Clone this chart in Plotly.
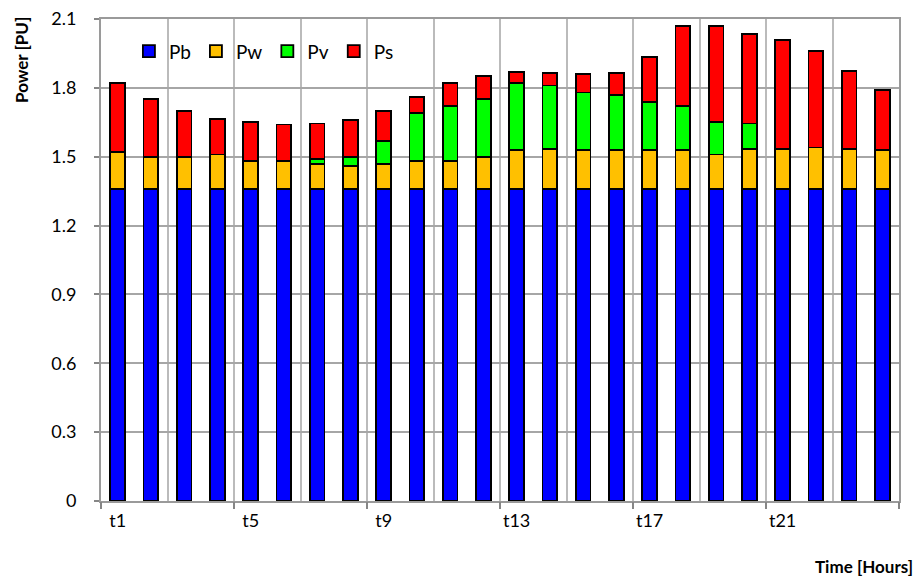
import plotly.graph_objects as go

# hourly power shares (per unit)
hours = [f"t{i}" for i in range(1, 25)]
pb = [1.36] * 24
pw = [0.16, 0.14, 0.14, 0.15, 0.12, 0.12, 0.11, 0.10, 0.11, 0.12, 0.12, 0.14,
      0.17, 0.175, 0.17, 0.17, 0.17, 0.17, 0.15, 0.175, 0.175, 0.18, 0.175, 0.17]
pv = [0, 0, 0, 0, 0, 0, 0.02, 0.04, 0.10, 0.21, 0.24, 0.25,
      0.29, 0.275, 0.25, 0.24, 0.21, 0.19, 0.14, 0.11, 0, 0, 0, 0]
ps = [0.30, 0.25, 0.20, 0.155, 0.17, 0.16, 0.155, 0.16, 0.13, 0.07, 0.10, 0.10,
      0.05, 0.055, 0.08, 0.095, 0.195, 0.35, 0.42, 0.39, 0.475, 0.42, 0.34, 0.26]
y_ticks = [0, 0.3, 0.6, 0.9, 1.2, 1.5, 1.8, 2.1]

label_every = 4
series = [("Pb", pb, "#0000FF"), ("Pw", pw, "#FFC000"),
          ("Pv", pv, "#00FF00"), ("Ps", ps, "#FF0000")]

FONT = "Lato"
x = list(range(1, len(hours) + 1))
x_range = [0.5, len(hours) + 0.5]

fig = go.Figure()
for name, vals, col in series:
    # zero-height segments are left out so they don't draw an outline
    fig.add_trace(go.Bar(
        x=x, y=[v if v else None for v in vals], name=name,
        marker=dict(color=col, line=dict(color="black", width=1.8)),
    ))

# invisible trace on the overlay axis so the boundary tick marks are drawn
fig.add_trace(go.Scatter(x=x_range, y=[0, 0], xaxis="x2", mode="lines",
                         line=dict(width=0), showlegend=False, hoverinfo="skip"))

# the page body adds an 8px offset, so the figure is 8px smaller
fig.update_layout(
    width=916, height=574,
    barmode="stack", bargap=0.56,
    plot_bgcolor="white", paper_bgcolor="white",
    margin=dict(l=93, r=25, t=11, b=81, autoexpand=False),
    font=dict(family=FONT, size=18, color="black"),
    showlegend=True,
    legend=dict(orientation="h", x=0.035, y=0.933, xanchor="left", yanchor="middle",
                bgcolor="rgba(0,0,0,0)", font=dict(size=19), traceorder="normal"),
    xaxis=dict(
        range=x_range,
        tickmode="array",
        tickvals=x[::label_every], ticktext=hours[::label_every],
        ticks="", showgrid=False, ticklabelstandoff=2,
        showline=True, linecolor="#9A9A9A", linewidth=2, mirror=True,
        minor=dict(tickmode="linear", tick0=0.5, dtick=2, showgrid=True,
                   gridcolor="#BBBBBB", gridwidth=1.5, ticks=""),
        zeroline=False,
    ),
    xaxis2=dict(
        overlaying="x", anchor="y", side="bottom",
        range=x_range,
        tickmode="linear", tick0=0.5, dtick=label_every,
        ticks="outside", ticklen=7, tickwidth=1.5, tickcolor="#868686",
        showticklabels=False, showgrid=False, showline=False, zeroline=False,
    ),
    yaxis=dict(
        range=[0, y_ticks[-1]],
        tickmode="array", tickvals=y_ticks,
        ticktext=[f"{v:g}" for v in y_ticks],
        ticklabeloverflow="allow",
        showgrid=True, gridcolor="#A6A6A6", gridwidth=2,
        showline=True, linecolor="#9A9A9A", linewidth=2, mirror=True,
        ticks="outside", ticklen=5, tickwidth=1.5, tickcolor="#868686",
        ticklabelstandoff=14, zeroline=False,
    ),
    annotations=[
        dict(text="<b>Power [PU]</b>", textangle=-90, xref="paper", yref="paper",
             x=-0.099, y=0.915, xanchor="center", yanchor="middle",
             showarrow=False, font=dict(size=17)),
        dict(text="<b>Time [Hours]</b>", xref="paper", yref="paper",
             x=1.02, y=-0.135, xanchor="right", yanchor="middle",
             showarrow=False, font=dict(size=17)),
    ],
)

fig.write_html("out.html")
